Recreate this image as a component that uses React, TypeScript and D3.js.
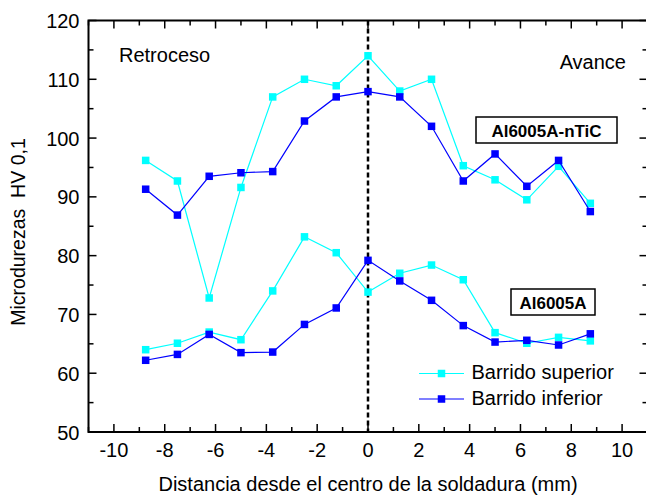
import React, { useEffect, useRef } from "react";
import * as d3 from "d3";

// distancias (mm) donde se midio
const distancias = [-8.75, -7.5, -6.25, -5, -3.75, -2.5, -1.25, 0, 1.25, 2.5, 3.75, 5, 6.25, 7.5, 8.75];

// Al6005A-nTiC
const ntic_superior = [96.2, 92.7, 72.8, 91.6, 107, 110, 108.9, 114, 108, 110, 95.3, 92.9, 89.5, 95.2, 88.9];
const ntic_inferior = [91.3, 86.9, 93.5, 94.1, 94.3, 102.9, 107, 107.9, 107, 102, 92.7, 97.3, 91.8, 96.2, 87.5];

// Al6005A
const base_superior = [64.0, 65.1, 67.0, 65.7, 74.0, 83.2, 80.5, 73.8, 77.0, 78.4, 75.9, 66.9, 65.1, 66.1, 65.5];
const base_inferior = [62.2, 63.2, 66.6, 63.5, 63.6, 68.3, 71.1, 79.2, 75.7, 72.4, 68.1, 65.3, 65.6, 64.8, 66.7];

const xTicks = [-10, -8, -6, -4, -2, 0, 2, 4, 6, 8, 10];
const yTicks = [50, 60, 70, 80, 90, 100, 110, 120];

const CYAN = "#00FFFF";
const AZUL = "#0000FF";
const FONT = "Liberation Sans, Arial, sans-serif";

export default function App() {
  const ref = useRef<SVGSVGElement>(null);
  const width = 646;
  const height = 496;

  useEffect(() => {
    const svg = d3.select(ref.current);
    svg.selectAll("*").remove();

    const left = 88.5, right = 647.5, top = 20.5, bottom = 432;
    const x = d3.scaleLinear().domain([-11, 11]).range([left, right]);
    const y = d3.scaleLinear().domain([50, 120]).range([bottom, top]);

    // marco
    svg.append("rect")
      .attr("x", left).attr("y", top)
      .attr("width", right - left).attr("height", bottom - top)
      .attr("fill", "none").attr("stroke", "black").attr("stroke-width", 2);

    // ticks abajo y arriba (hacia dentro)
    const xMinor = d3.range(-11, 12, 1);
    xMinor.forEach(v => {
      const major = v % 2 === 0;
      const len = major ? 8 : 5;
      svg.append("line").attr("x1", x(v)).attr("x2", x(v))
        .attr("y1", bottom).attr("y2", bottom - len)
        .attr("stroke", "black").attr("stroke-width", 1.5);
      svg.append("line").attr("x1", x(v)).attr("x2", x(v))
        .attr("y1", top).attr("y2", top + len)
        .attr("stroke", "black").attr("stroke-width", 1.5);
    });
    const yMinor = d3.range(50, 121, 5);
    yMinor.forEach(v => {
      const major = v % 10 === 0;
      const len = major ? 8 : 5;
      svg.append("line").attr("x1", left).attr("x2", left + len)
        .attr("y1", y(v)).attr("y2", y(v))
        .attr("stroke", "black").attr("stroke-width", 1.5);
      svg.append("line").attr("x1", right).attr("x2", right - len)
        .attr("y1", y(v)).attr("y2", y(v))
        .attr("stroke", "black").attr("stroke-width", 1.5);
    });

    // etiquetas
    svg.append("g").selectAll("text").data(xTicks).join("text")
      .attr("x", d => x(d)).attr("y", 457)
      .attr("text-anchor", "middle")
      .attr("font-family", FONT).attr("font-size", 20)
      .text(d => d);
    svg.append("g").selectAll("text").data(yTicks).join("text")
      .attr("x", 79.5).attr("y", d => y(d) + 7.5)
      .attr("text-anchor", "end")
      .attr("font-family", FONT).attr("font-size", 20)
      .text(d => d);

    svg.append("text")
      .attr("x", x(0)).attr("y", 490.5)
      .attr("text-anchor", "middle")
      .attr("font-family", FONT).attr("font-size", 20)
      .text("Distancia desde el centro de la soldadura (mm)");
    svg.append("text")
      .attr("transform", `translate(25,232) rotate(-90)`)
      .attr("text-anchor", "middle")
      .attr("font-family", FONT).attr("font-size", 19.5)
      .attr("xml:space", "preserve")
      .text("Microdurezas  HV 0,1");

    // linea discontinua en el centro
    svg.append("line")
      .attr("x1", x(0)).attr("x2", x(0))
      .attr("y1", top).attr("y2", bottom)
      .attr("stroke", "black").attr("stroke-width", 2.5)
      .attr("stroke-dasharray", "5,3");

    const line = d3.line<number>()
      .x((_, i) => x(distancias[i]))
      .y(d => y(d));

    const series = [
      { vals: ntic_superior, color: CYAN },
      { vals: base_superior, color: CYAN },
      { vals: ntic_inferior, color: AZUL },
      { vals: base_inferior, color: AZUL },
    ];
    const ms = 7.5;
    series.forEach(s => {
      svg.append("path").attr("d", line(s.vals))
        .attr("fill", "none").attr("stroke", s.color).attr("stroke-width", 1.2);
      svg.append("g").selectAll("rect").data(s.vals).join("rect")
        .attr("x", (_, i) => x(distancias[i]) - ms / 2)
        .attr("y", d => y(d) - ms / 2)
        .attr("width", ms).attr("height", ms)
        .attr("fill", s.color);
    });

    // textos dentro
    svg.append("text").attr("x", 119).attr("y", 62)
      .attr("font-family", FONT).attr("font-size", 20).text("Retroceso");
    svg.append("text").attr("x", 626).attr("y", 69).attr("text-anchor", "end")
      .attr("font-family", FONT).attr("font-size", 20).text("Avance");

    const caja = (x0: number, y0: number, w: number, h: number, t: string) => {
      svg.append("rect").attr("x", x0).attr("y", y0).attr("width", w).attr("height", h)
        .attr("fill", "white").attr("stroke", "black").attr("stroke-width", 1.5);
      svg.append("text").attr("x", x0 + w / 2).attr("y", y0 + h / 2 + 6.5)
        .attr("text-anchor", "middle").attr("font-weight", "bold")
        .attr("font-family", FONT).attr("font-size", 17).text(t);
    };
    caja(476, 117, 141, 26, "Al6005A-nTiC");
    caja(511, 289, 84, 26, "Al6005A");

    // leyenda
    [
      { label: "Barrido superior", color: CYAN, yy: 373.5 },
      { label: "Barrido inferior", color: AZUL, yy: 399 },
    ].forEach(l => {
      svg.append("line").attr("x1", 419).attr("x2", 464)
        .attr("y1", l.yy).attr("y2", l.yy)
        .attr("stroke", l.color).attr("stroke-width", 1.2);
      svg.append("rect").attr("x", 441.5 - ms / 2).attr("y", l.yy - ms / 2)
        .attr("width", ms).attr("height", ms).attr("fill", l.color);
      svg.append("text").attr("x", 471.5).attr("y", l.yy + 5.8)
        .attr("font-family", FONT).attr("font-size", 20).text(l.label);
    });
  }, []);

  return (
    <svg ref={ref} width={width} height={height}
      style={{ position: "absolute", left: 0, top: 0, background: "white" }} />
  );
}
